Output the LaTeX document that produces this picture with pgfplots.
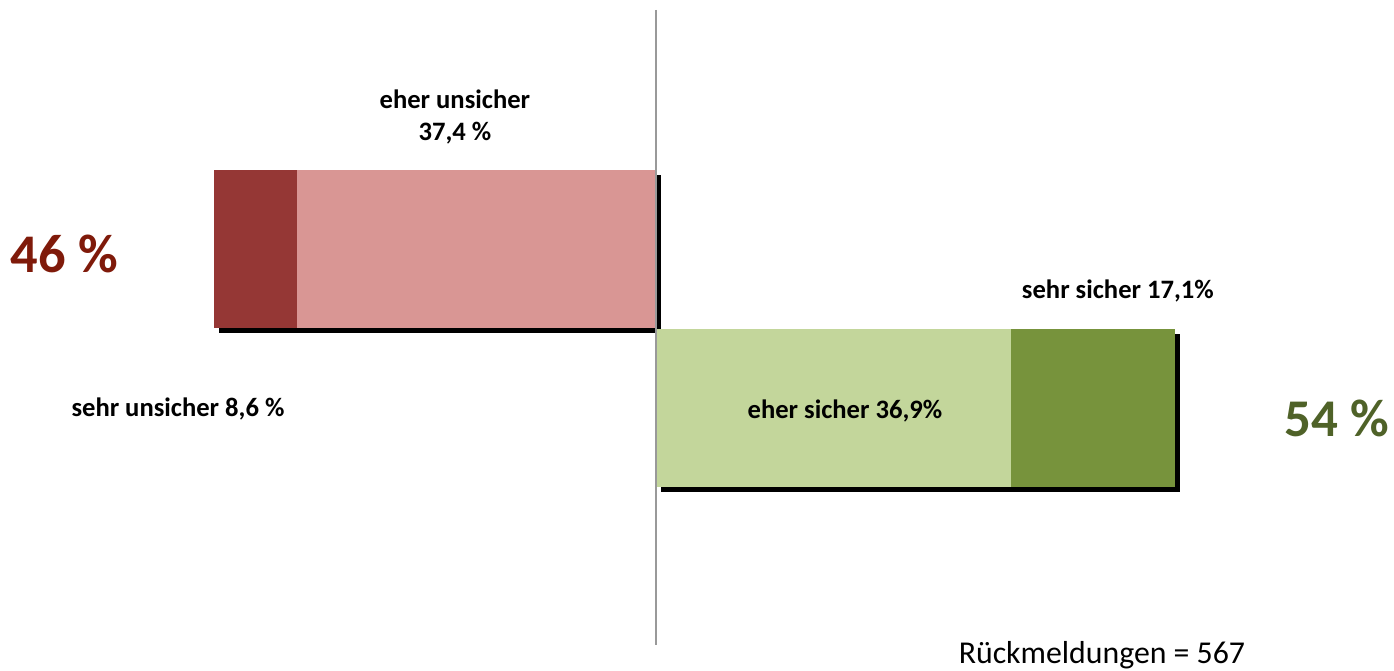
\documentclass[border=0pt]{standalone}
\usepackage{pgfplots}
\pgfplotsset{compat=1.18}
\usepackage{fontspec}
\setmainfont{Carlito}
\definecolor{darkred}{HTML}{953735}
\definecolor{lightred}{HTML}{D99694}
\definecolor{lightgreen}{HTML}{C3D69B}
\definecolor{darkgreen}{HTML}{77933C}
\definecolor{negtext}{HTML}{7F1A0A}
\definecolor{postext}{HTML}{4F6228}
\begin{document}
\begin{tikzpicture}
\begin{axis}[
  scale only axis, width=697pt, height=335pt,
  xmin=-68.26, xmax=76.80, ymin=0, ymax=670,
  hide axis, clip=false,
]
% shadows (total bars)
\addplot[xbar, bar shift=0pt, bar width=158, fill=black, draw=none, xshift=2.5pt, yshift=-2.5pt] coordinates {(-46.0,421)};
\addplot[xbar, bar shift=0pt, bar width=158, fill=black, draw=none, xshift=2.5pt, yshift=-2.5pt] coordinates {(54.0,262)};
% unsicher: total 46.0 = 37.4 + 8.6
\addplot[xbar, bar shift=0pt, bar width=158, fill=darkred, draw=none] coordinates {(-46.0,421)};
\addplot[xbar, bar shift=0pt, bar width=158, fill=lightred, draw=none] coordinates {(-37.4,421)};
% sicher: total 54.0 = 36.9 + 17.1
\addplot[xbar, bar shift=0pt, bar width=158, fill=darkgreen, draw=none] coordinates {(54.0,262)};
\addplot[xbar, bar shift=0pt, bar width=158, fill=lightgreen, draw=none] coordinates {(36.9,262)};
\draw[color=black!40, line width=0.6pt] (axis cs:0,660) -- (axis cs:0,25);
\node[font=\fontsize{13.3}{16}\selectfont\bfseries, align=center] at (axis cs:-20.92,553) {eher unsicher\\37,4 \%};
\node[font=\fontsize{27.2}{30}\selectfont\bfseries, text=negtext] at (axis cs:-61.55,416) {46 \%};
\node[font=\fontsize{13.3}{16}\selectfont\bfseries] at (axis cs:-49.74,261) {sehr unsicher 8,6 \%};
\node[font=\fontsize{13.3}{16}\selectfont\bfseries] at (axis cs:19.67,259) {eher sicher 36,9\%};
\node[font=\fontsize{13.3}{16}\selectfont\bfseries] at (axis cs:48.07,379) {sehr sicher 17,1\%};
\node[font=\fontsize{26.5}{30}\selectfont\bfseries, text=postext] at (axis cs:70.86,252) {54 \%};
\node[font=\fontsize{15.9}{18}\selectfont] at (axis cs:46.41,15) {Rückmeldungen = 567};
\end{axis}
\pgfresetboundingbox
\path (current axis.south west) rectangle (current axis.north east);
\end{tikzpicture}
\end{document}
